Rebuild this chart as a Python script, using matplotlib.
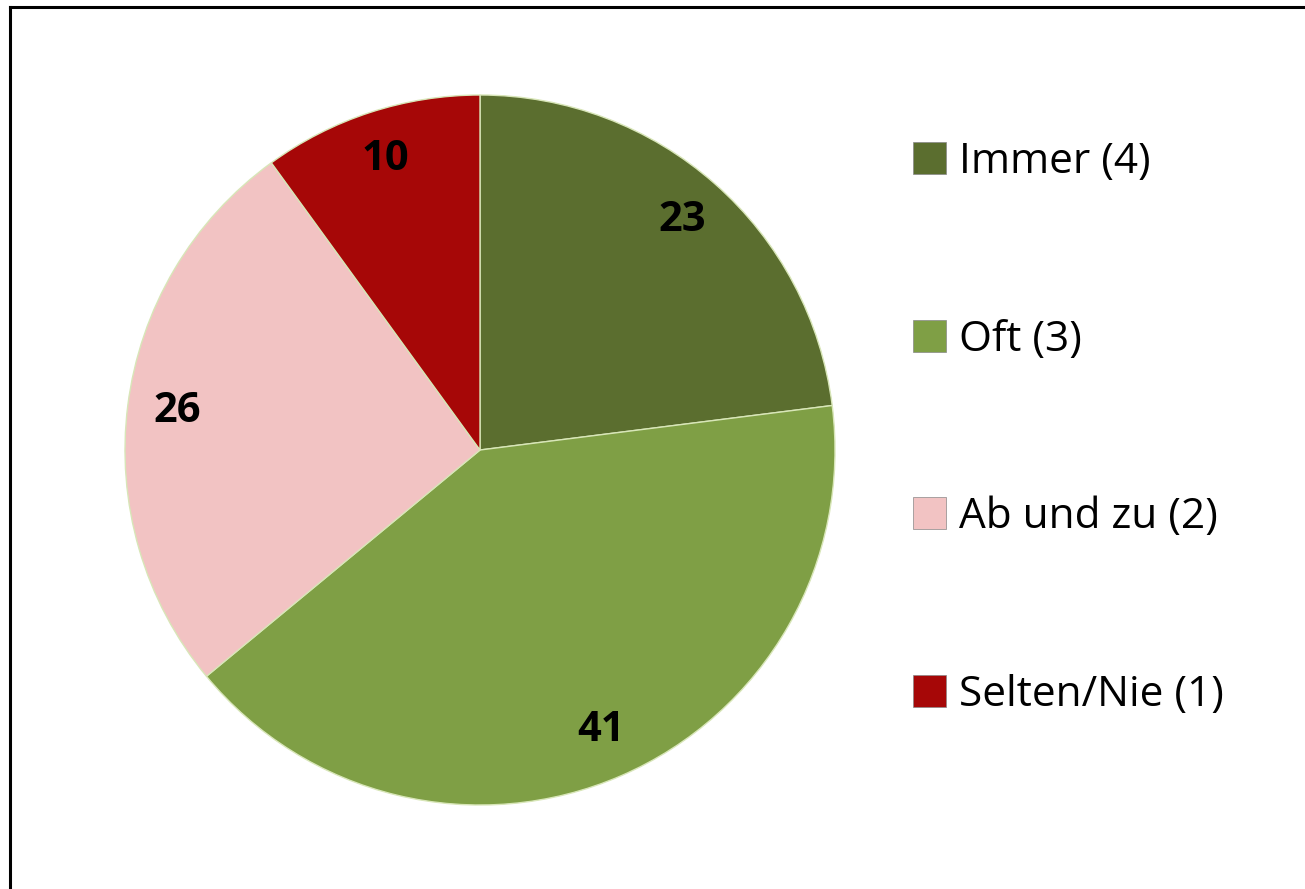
import matplotlib.pyplot as plt
from matplotlib.lines import Line2D
from matplotlib.patches import Patch

categories = ['Immer (4)', 'Oft (3)', 'Ab und zu (2)', 'Selten/Nie (1)']
values = [23, 41, 26, 10]
colors = ['#5b6e2f', '#7f9f45', '#f2c3c3', '#a60707']

plt.rcParams['font.family'] = ['Open Sans', 'DejaVu Sans']

fig = plt.figure(figsize=(13.05, 8.89), dpi=100)
ax = fig.add_axes([125 / 1305, 84 / 889, 710 / 1305, 710 / 889])

wedges, texts = ax.pie(values, colors=colors, startangle=90, counterclock=False,
                       labels=[str(v) for v in values], labeldistance=0.86,
                       wedgeprops=dict(edgecolor='#d8e6b8', linewidth=1.0),
                       textprops=dict(fontsize=30, fontweight='bold', color='black'))
for t in texts:
    t.set_ha('center')
    t.set_va('center')
ax.set_xlim(-1.0, 1.0)
ax.set_ylim(-1.0, 1.0)
ax.set_aspect('equal')

handles = [Patch(facecolor=c, edgecolor='#888888', linewidth=0.5) for c in colors]
fig.legend(handles, categories, loc='upper left', bbox_to_anchor=(913 / 1305, 1 - 141 / 889),
           frameon=False, fontsize=30.5, labelspacing=3.2, handlelength=0.78,
           handleheight=0.78, handletextpad=0.3, borderpad=0, borderaxespad=0)

# frame on the left and top edges
fig.add_artist(Line2D([10 / 1305, 10 / 1305], [0, 1 - 7 / 889], color='black', lw=2.2,
                      transform=fig.transFigure))
fig.add_artist(Line2D([10 / 1305, 1], [1 - 7 / 889, 1 - 7 / 889], color='black', lw=2.2,
                      transform=fig.transFigure))

fig.savefig('out.png', dpi=100)
